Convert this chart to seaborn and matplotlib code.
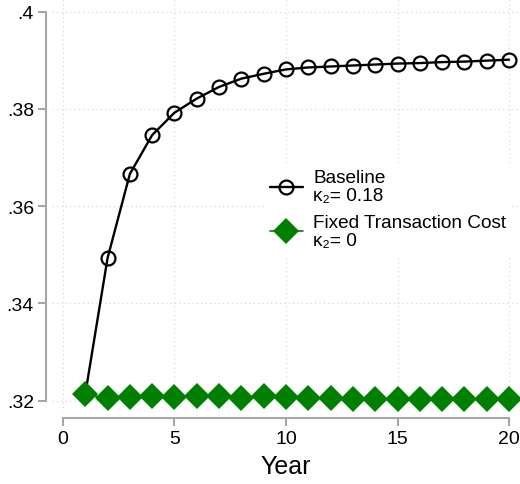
import numpy as np
import pandas as pd
import seaborn as sns
import matplotlib.pyplot as plt
from matplotlib.lines import Line2D

YEARS = list(range(1, 21))
BASELINE = [0.3213, 0.3493, 0.3666, 0.3746, 0.3792, 0.3821, 0.3845, 0.3862,
            0.3872, 0.3881, 0.3885, 0.3887, 0.3889, 0.3891, 0.3893, 0.3894,
            0.3896, 0.3897, 0.3899, 0.3901]
FIXED_COST = [0.3213, 0.3205, 0.3208, 0.3210, 0.3208, 0.3209, 0.3209, 0.3206,
              0.3209, 0.3208, 0.3206, 0.3205, 0.3203, 0.3204, 0.3203, 0.3203,
              0.3203, 0.3204, 0.3204, 0.3204]
LABELS = ["Baseline\nκ₂= 0.18", "Fixed Transaction Cost\nκ₂= 0"]
X_TICKS = [0, 5, 10, 15, 20]
Y_TICKS = [0.32, 0.34, 0.36, 0.38, 0.40]
Y_TICK_LABELS = [".32", ".34", ".36", ".38", ".4"]

GREEN = "#008000"
SPINE = "#a6a6a6"

sns.set_style("white")
plt.rcParams["font.family"] = ["Liberation Sans", "DejaVu Sans"]
plt.rcParams["text.color"] = "black"

df = pd.DataFrame({"year": YEARS, "baseline": BASELINE, "fixed": FIXED_COST})

fig = plt.figure(figsize=(5.2, 4.85), dpi=100)
ax = fig.add_axes([52 / 520, 1 - 413 / 485, 468 / 520, 413 / 485])

sns.lineplot(data=df, x="year", y="baseline", ax=ax, color="black", lw=1.7,
             marker="o", markersize=10, markerfacecolor="none",
             markeredgecolor="black", markeredgewidth=1.6, zorder=3)
sns.lineplot(data=df, x="year", y="fixed", ax=ax, color=GREEN, lw=1.2,
             marker="D", markersize=13.5, markeredgewidth=0, zorder=4)

ax.set_xlim(-0.49, 20.49)
ax.set_ylim(0.31768, 0.40257)
ax.set_xticks(X_TICKS)
ax.set_yticks(Y_TICKS)
ax.set_yticklabels(Y_TICK_LABELS)
ax.set_xlabel("Year", fontsize=18, labelpad=5, color="black")
ax.set_ylabel("")

ax.grid(True, color="#d9d9d9", linestyle=(0, (1, 2.5)), lw=0.9)
for s in ["top", "right"]:
    ax.spines[s].set_visible(False)
ax.spines["left"].set_position(("outward", 4))
ax.spines["bottom"].set_position(("outward", 4))
ax.spines["left"].set_bounds(0.32, 0.40)
ax.spines["bottom"].set_bounds(0, 20)
for s in ["left", "bottom"]:
    ax.spines[s].set_color(SPINE)
    ax.spines[s].set_linewidth(1.5)
ax.tick_params(axis="both", direction="out", length=6, width=1.5,
               color=SPINE, labelsize=14, labelcolor="black", pad=3,
               left=True, bottom=True)

handles = [
    Line2D([], [], color="black", lw=1.7, marker="o", markersize=10,
           markerfacecolor="none", markeredgewidth=1.6),
    Line2D([], [], color=GREEN, lw=1.2, marker="D", markersize=13.5,
           markeredgewidth=0),
]
leg = fig.legend(handles, LABELS, loc="upper left",
                 bbox_to_anchor=(255 / 520, 1 - 155 / 485), fontsize=13.7,
                 frameon=True, facecolor="white", edgecolor="none",
                 framealpha=1, handlelength=1.7, handletextpad=0.55,
                 labelspacing=0.5, borderpad=0.3, fancybox=False)
for t in leg.get_texts():
    t.set_linespacing(1.08)
    t.set_color("black")

fig.savefig("out.png", dpi=100)
